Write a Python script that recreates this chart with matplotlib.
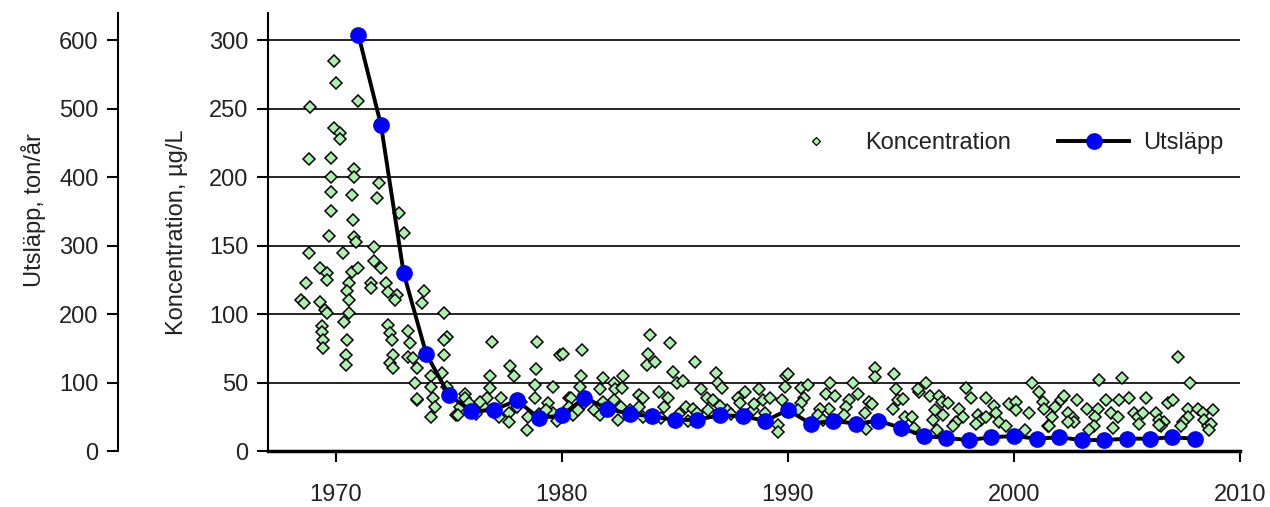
"""
Koncentration (scatter) and Utsläpp (line) 1967-2010, two stacked y scales.
"""

import matplotlib

matplotlib.use("Agg")
import matplotlib.pyplot as plt
from matplotlib.lines import Line2D

plt.rcParams["font.family"] = ["Liberation Sans", "DejaVu Sans"]

# utsläpp, ton/år
utslapp_year = list(range(1971, 2009))
utslapp_value = [
    608, 476, 260, 142, 82, 58, 60, 74, 48, 52,
    78, 62, 54, 51, 45, 46, 52, 51, 44, 60,
    40, 44, 40, 44, 34, 22, 19, 16, 20, 22,
    18, 20, 16, 16, 18, 18, 20, 18,
]

# koncentration, µg/L (year, value)
conc_year = [
    # 1968-1974
    1969.9, 1970.0, 1971.0, 1968.85, 1969.9, 1970.2, 1970.2, 1968.8, 1969.8, 1970.8,
    1970.8, 1969.8, 1971.9, 1969.8, 1970.7, 1971.8, 1969.8, 1970.75, 1972.8, 1973.0,
    1969.7, 1970.8, 1970.9, 1968.8, 1970.3, 1971.7, 1971.7, 1972.0, 1969.3, 1969.6,
    1969.6, 1968.7, 1970.7, 1971.0, 1970.6, 1970.5, 1971.55, 1971.55, 1972.2, 1972.3,
    1972.7, 1972.6, 1968.45, 1968.6, 1969.3, 1969.5, 1969.6, 1970.6, 1970.6, 1970.35,
    1973.9, 1973.8, 1969.4, 1969.4, 1969.45, 1969.45, 1970.5, 1970.45, 1970.45, 1972.3,
    1972.4, 1972.5, 1972.55, 1972.4, 1972.55, 1973.2, 1973.3, 1973.2, 1973.4, 1973.6,
    1973.5, 1973.6,
    # 1974-1980
    1974.8, 1974.9, 1974.8, 1974.8, 1976.9, 1978.9, 1979.9, 1977.7, 1977.9, 1978.85,
    1974.2, 1974.2, 1974.3, 1974.2, 1974.7, 1975.7, 1975.7, 1975.3, 1976.8, 1976.8,
    1976.7, 1977.3, 1977.65, 1977.65, 1978.5, 1978.45, 1978.8, 1978.8, 1979.6, 1979.4,
    1979.6, 1980.3, 1973.6, 1974.4, 1974.9, 1975.5, 1975.4, 1976.0, 1976.2, 1976.5,
    1977.0, 1977.2, 1978.0, 1979.0, 1979.3, 1979.8, 1975.9, 1976.4, 1978.2,
    # 1980-1990
    1980.9, 1980.05, 1983.9, 1984.8, 1983.8, 1983.75, 1984.1, 1985.9, 1984.9, 1985.1,
    1985.35, 1986.8, 1986.9, 1987.1, 1980.85, 1980.8, 1981.8, 1981.7, 1981.8, 1982.3,
    1982.35, 1982.3, 1982.6, 1982.7, 1982.65, 1980.4, 1980.3, 1980.5, 1983.4, 1983.6,
    1983.4, 1983.6, 1984.3, 1984.7, 1984.5, 1984.4, 1985.5, 1985.8, 1986.15, 1986.4,
    1986.7, 1986.45, 1987.8, 1988.1, 1987.9, 1988.45, 1988.7, 1988.9, 1989.2, 1988.5,
    1989.55, 1989.55, 1989.9, 1989.85, 1989.75, 1981.4, 1981.7, 1982.5, 1985.2, 1986.0,
    1987.3, 1987.5, 1988.2, 1989.0, 1983.0, 1981.0, 1980.7, 1985.6, 1987.0,
    # 1990-2000
    1993.85, 1993.85, 1994.7, 1990.0, 1990.6, 1990.9, 1990.7, 1990.6, 1990.45, 1991.85,
    1991.7, 1992.1, 1991.8, 1992.9, 1993.1, 1992.7, 1992.55, 1992.5, 1993.6, 1993.7,
    1993.4, 1991.4, 1991.35, 1991.55, 1993.45, 1994.8, 1994.85, 1995.1, 1994.65, 1995.2,
    1995.5, 1995.6, 1996.1, 1995.8, 1995.75, 1996.3, 1996.5, 1996.4, 1996.6, 1996.7,
    1996.8, 1997.1, 1996.85, 1997.55, 1997.75, 1997.45, 1997.3, 1997.9, 1998.1, 1998.4,
    1998.55, 1998.3, 1998.75, 1998.75, 1999.1, 1999.2, 1999.35, 1999.65, 1999.8, 2000.1,
    # 2000-2009
    2000.8, 2001.1, 2001.3, 2001.35, 2001.5, 2000.1, 2000.65, 2000.5, 2001.8, 2001.7,
    2001.55, 2002.1, 2002.2, 2002.4, 2002.6, 2002.65, 2002.4, 2002.8, 2003.25, 2003.7,
    2003.6, 2003.55, 2003.3, 2003.75, 2004.05, 2004.3, 2004.6, 2004.4, 2004.8, 2005.1,
    2004.65, 2005.3, 2005.5, 2005.55, 2005.7, 2005.85, 2006.3, 2006.4, 2006.65, 2006.5,
    2006.4, 2006.8, 2007.05, 2007.25, 2007.8, 2007.7, 2007.7, 2007.5, 2007.4, 2008.15,
    2008.35, 2008.4, 2008.6, 2008.8, 2008.7, 2008.65,
]
conc_value = [
    # 1968-1974
    285, 269, 256, 251, 236, 232, 228, 213, 214, 206,
    200, 200, 196, 189, 187, 185, 175, 169, 174, 159,
    157, 156, 153, 145, 145, 149, 139, 134, 134, 130,
    125, 123, 131, 134, 123, 117, 123, 119, 123, 116,
    114, 110, 110, 108, 109, 103, 101, 110, 101, 94,
    117, 108, 91, 87, 81, 75, 81, 70, 63, 92,
    86, 81, 70, 64, 61, 88, 79, 69, 68, 61,
    50, 37,
    # 1974-1980
    101, 83, 81, 70, 80, 80, 70, 62, 55, 60,
    55, 47, 39, 25, 57, 42, 39, 26, 55, 46,
    39, 39, 28, 21, 25, 15, 48, 39, 47, 35,
    28, 39, 38, 32, 47, 32, 26, 30, 27, 33,
    30, 25, 32, 27, 30, 22, 35, 36, 36,
    # 1980-1990
    74, 71, 85, 79, 71, 63, 65, 65, 58, 50,
    51, 57, 50, 46, 55, 47, 53, 45, 36, 50,
    45, 37, 32, 55, 46, 39, 32, 26, 41, 39,
    32, 25, 43, 39, 32, 24, 32, 31, 45, 39,
    37, 30, 39, 43, 35, 30, 45, 37, 39, 34,
    19, 14, 55, 47, 37, 30, 26, 23, 27, 28,
    30, 27, 26, 28, 30, 35, 30, 22, 33,
    # 1990-2000
    61, 54, 56, 56, 46, 48, 39, 35, 30, 50,
    42, 40, 31, 50, 42, 37, 32, 26, 36, 34,
    28, 31, 26, 23, 16, 45, 37, 38, 31, 25,
    25, 17, 50, 43, 45, 40, 30, 23, 15, 40,
    36, 35, 26, 31, 25, 21, 18, 46, 39, 26,
    23, 20, 25, 39, 33, 28, 21, 18, 34, 36,
    # 2000-2009
    50, 43, 36, 31, 18, 30, 28, 15, 32, 25,
    18, 37, 40, 28, 24, 21, 21, 37, 31, 31,
    25, 18, 15, 52, 37, 28, 25, 17, 53, 39,
    37, 28, 25, 20, 28, 39, 28, 23, 21, 18,
    19, 35, 37, 69, 50, 31, 25, 21, 18, 31,
    28, 23, 18, 30, 20, 15,
]

conc_ticks = [0, 50, 100, 150, 200, 250, 300]
utslapp_ticks = [0, 100, 200, 300, 400, 500, 600]
year_ticks = [1970, 1980, 1990, 2000, 2010]

light_green = "#adf0ad"
blue = "#0000ff"
text_color = "#222222"
fs = 17


def main():
    fig = plt.figure(figsize=(12.7, 5.07), dpi=100)
    ax = fig.add_axes([268 / 1270, 1 - 451 / 507, 972 / 1270, 438 / 507])

    # concentration points
    ax.plot(conc_year, conc_value, linestyle="none", marker="D", ms=6.5,
            mfc=light_green, mec="black", mew=1.1, zorder=3)
    ax.set_xlim(1967, 2010)
    ax.set_ylim(0, 320)
    ax.set_xticks(year_ticks)
    ax.set_yticks(conc_ticks)
    ax.yaxis.grid(True, color="black", linewidth=1.2)
    ax.set_axisbelow(True)
    for side in ("top", "right"):
        ax.spines[side].set_visible(False)
    ax.spines["left"].set_linewidth(1.5)
    ax.spines["bottom"].set_linewidth(2.5)
    ax.tick_params(axis="both", direction="out", length=8, width=1.5,
                   labelsize=fs, colors="black", labelcolor=text_color)
    ax.tick_params(axis="x", pad=16)
    ax.tick_params(axis="y", pad=6)
    ax.set_ylabel("Koncentration, µg/L", fontsize=fs, color=text_color)
    ax.yaxis.set_label_coords(-0.082, 0.5)

    # emission line on the outer scale
    ax2 = ax.twinx()
    ax2.plot(utslapp_year, utslapp_value, color="black", linewidth=2.8,
             marker="o", ms=11, mfc=blue, mec=blue, zorder=4)
    ax2.set_ylim(0, 640)
    ax2.set_yticks(utslapp_ticks)
    ax2.yaxis.tick_left()
    ax2.yaxis.set_label_position("left")
    ax2.spines["left"].set_position(("axes", -150 / 972))
    ax2.spines["left"].set_linewidth(1.5)
    for side in ("top", "right", "bottom"):
        ax2.spines[side].set_visible(False)
    ax2.tick_params(axis="y", direction="out", length=8, width=1.5,
                    labelsize=fs, labelcolor=text_color, pad=6)
    ax2.set_ylabel("Utsläpp, ton/år", fontsize=fs, color=text_color)
    ax2.yaxis.set_label_coords(-0.228, 0.55)

    handles = [
        Line2D([], [], linestyle="none", marker="D", ms=4.5, mfc=light_green,
               mec="black", mew=0.9),
        Line2D([], [], color="black", linewidth=2.8, marker="o", ms=11,
               mfc=blue, mec=blue),
    ]
    ax2.legend(handles, ["Koncentration", "Utsläpp"], ncol=2, frameon=False,
               loc="center right", bbox_to_anchor=(1.005, 0.703), fontsize=fs,
               handlelength=3.0, handletextpad=0.6, columnspacing=2.0,
               labelcolor=text_color)

    fig.savefig("out.png", dpi=100)


if __name__ == "__main__":
    main()
